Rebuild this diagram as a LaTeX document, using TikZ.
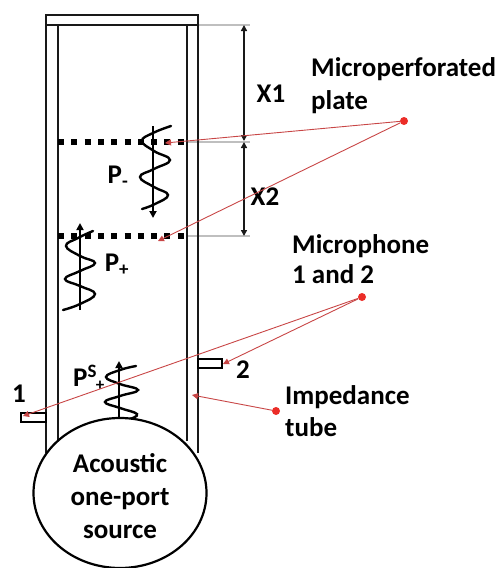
\documentclass[tikz,border=0pt]{standalone}
\usepackage{fontspec}
\setmainfont{Carlito}
\usetikzlibrary{arrows.meta,shapes.geometric}
\definecolor{lead}{RGB}{200,70,70}
\definecolor{dotred}{RGB}{235,45,40}
\tikzset{
  x=1pt,y=-1pt,
  wall/.style={line width=2pt,black!90},
  guide/.style={line width=1.1pt,black!25},
  dimline/.style={line width=1.7pt,black!90,{Triangle[length=6pt,width=6pt]}-{Triangle[length=6pt,width=6pt]}},
  plate/.style={line width=6pt,black,dash pattern=on 6pt off 7.3pt},
  wave/.style={line width=2.4pt,black,line cap=round},
  axisline/.style={line width=1.8pt,black,-{Triangle[length=7pt,width=7pt]}},
  leadline/.style={line width=.9pt,lead,-{Triangle[length=6pt,width=6pt]}},
  leaddot/.style={circle,fill=dotred,inner sep=0pt,minimum size=8pt},
  lab/.style={font=\fontsize{27}{30}\selectfont\bfseries,text=black,inner sep=0pt},
  multi/.style={lab,align=left,anchor=west},
  mic/.style={draw=black,line width=1.8pt,fill=white,minimum width=0pt,inner sep=0pt}
}
\begin{document}
\begin{tikzpicture}
\useasboundingbox (0,0) rectangle (500,568);
% guides
\coordinate (g1a) at (198,25); \coordinate (g1b) at (250,25);
\coordinate (g2a) at (187,142); \coordinate (g2b) at (250,142);
\coordinate (g3a) at (187,236); \coordinate (g3b) at (250,236);
\draw[guide] (g1a) -- (g1b);
\draw[guide] (g2a) -- (g2b);
\draw[guide] (g3a) -- (g3b);
% tube
\draw[wall] (46,453) -- (46,15) -- (198,15) -- (198,453);
\draw[wall] (46,25) -- (198,25);
\draw[wall] (58,25) -- (58,441);
\draw[wall] (187,25) -- (187,441);
% microphones
\node[mic,minimum width=25pt,minimum height=9pt] (mic1) at (33.5,417.5) {};
\node[mic,minimum width=24pt,minimum height=9pt] (mic2) at (210,363.5) {};
% plates
\coordinate (p1a) at (58,142); \coordinate (p1b) at (185,142);
\coordinate (p2a) at (58,236); \coordinate (p2b) at (185,236);
\draw[plate] (p1a) -- (p1b);
\draw[plate] (p2a) -- (p2b);
% dimensions
\coordinate (d0) at (244,25); \coordinate (d1) at (244,141); \coordinate (d1b) at (244,142); \coordinate (d2) at (244,236);
\draw[dimline] (d0) -- (d1);
\draw[dimline] (d1b) -- (d2);
% waves
\coordinate (w1a) at (153,126); \coordinate (w1b) at (153,218);
\draw[axisline] (w1a) -- (w1b);
\draw[wave] plot[smooth,tension=.75] coordinates {(171,126) (153,133) (142,141) (154,151) (170,160) (154,169) (140,177) (154,187) (168,195) (155,204) (142,209)};
\coordinate (w2a) at (80,310); \coordinate (w2b) at (80,223);
\draw[axisline] (w2a) -- (w2b);
\draw[wave] plot[smooth,tension=.75] coordinates {(93,231) (78,238) (66,246) (80,256) (95,263) (80,271) (65,279) (80,286) (95,294) (80,304) (63,310)};
\coordinate (w3a) at (119,418); \coordinate (w3b) at (119,361);
\draw[axisline] (w3a) -- (w3b);
\draw[wave] plot[smooth,tension=.75] coordinates {(136,366) (120,370) (106,377) (120,384) (138,390) (120,396) (105,402) (120,408) (137,414) (130,419)};
% source
\node[draw=black,line width=2.2pt,fill=white,ellipse,inner sep=0pt,minimum width=173pt,minimum height=150pt] (src) at (120,493) {};
\node[lab,align=center] (srctxt) at (120,496) {Acoustic\\[3pt]one-port\\[3pt]source};
% labels
\node[lab] (xone) at (271,94) {X1};
\node[lab] (xtwo) at (265,197) {X2};
\node[multi] (mpp) at (311,86) {Microperforated\\[3pt]plate};
\node[multi] (mph) at (292,259) {Microphone\\1 and 2};
\node[multi] (imp) at (285,411) {Impedance\\[2pt]tube};
\node[lab] (one) at (19,394) {1};
\node[lab] (two) at (243,370) {2};
\node[lab] (pm) at (118,177) {P\textsubscript{-}};
\node[lab] (pp) at (117,265) {P\textsubscript{+}};
\node[lab,anchor=west] (pss) at (73,376) {P\textsuperscript{S}};
\node[lab] (psp) at (100,386) {\fontsize{17}{17}\selectfont +};
% leaders
\node[leaddot] (la) at (404,121) {};
\node[leaddot] (lb) at (362,297) {};
\node[leaddot] (lc) at (276,411) {};
\coordinate (ta) at (165,143); \coordinate (tb) at (158,241);
\coordinate (tc) at (23,416); \coordinate (td) at (223,364); \coordinate (te) at (192,395);
\draw[leadline] (la) -- (ta);
\draw[leadline] (la) -- (tb);
\draw[leadline] (lb) -- (tc);
\draw[leadline] (lb) -- (td);
\draw[leadline] (lc) -- (te);
\end{tikzpicture}
\end{document}
